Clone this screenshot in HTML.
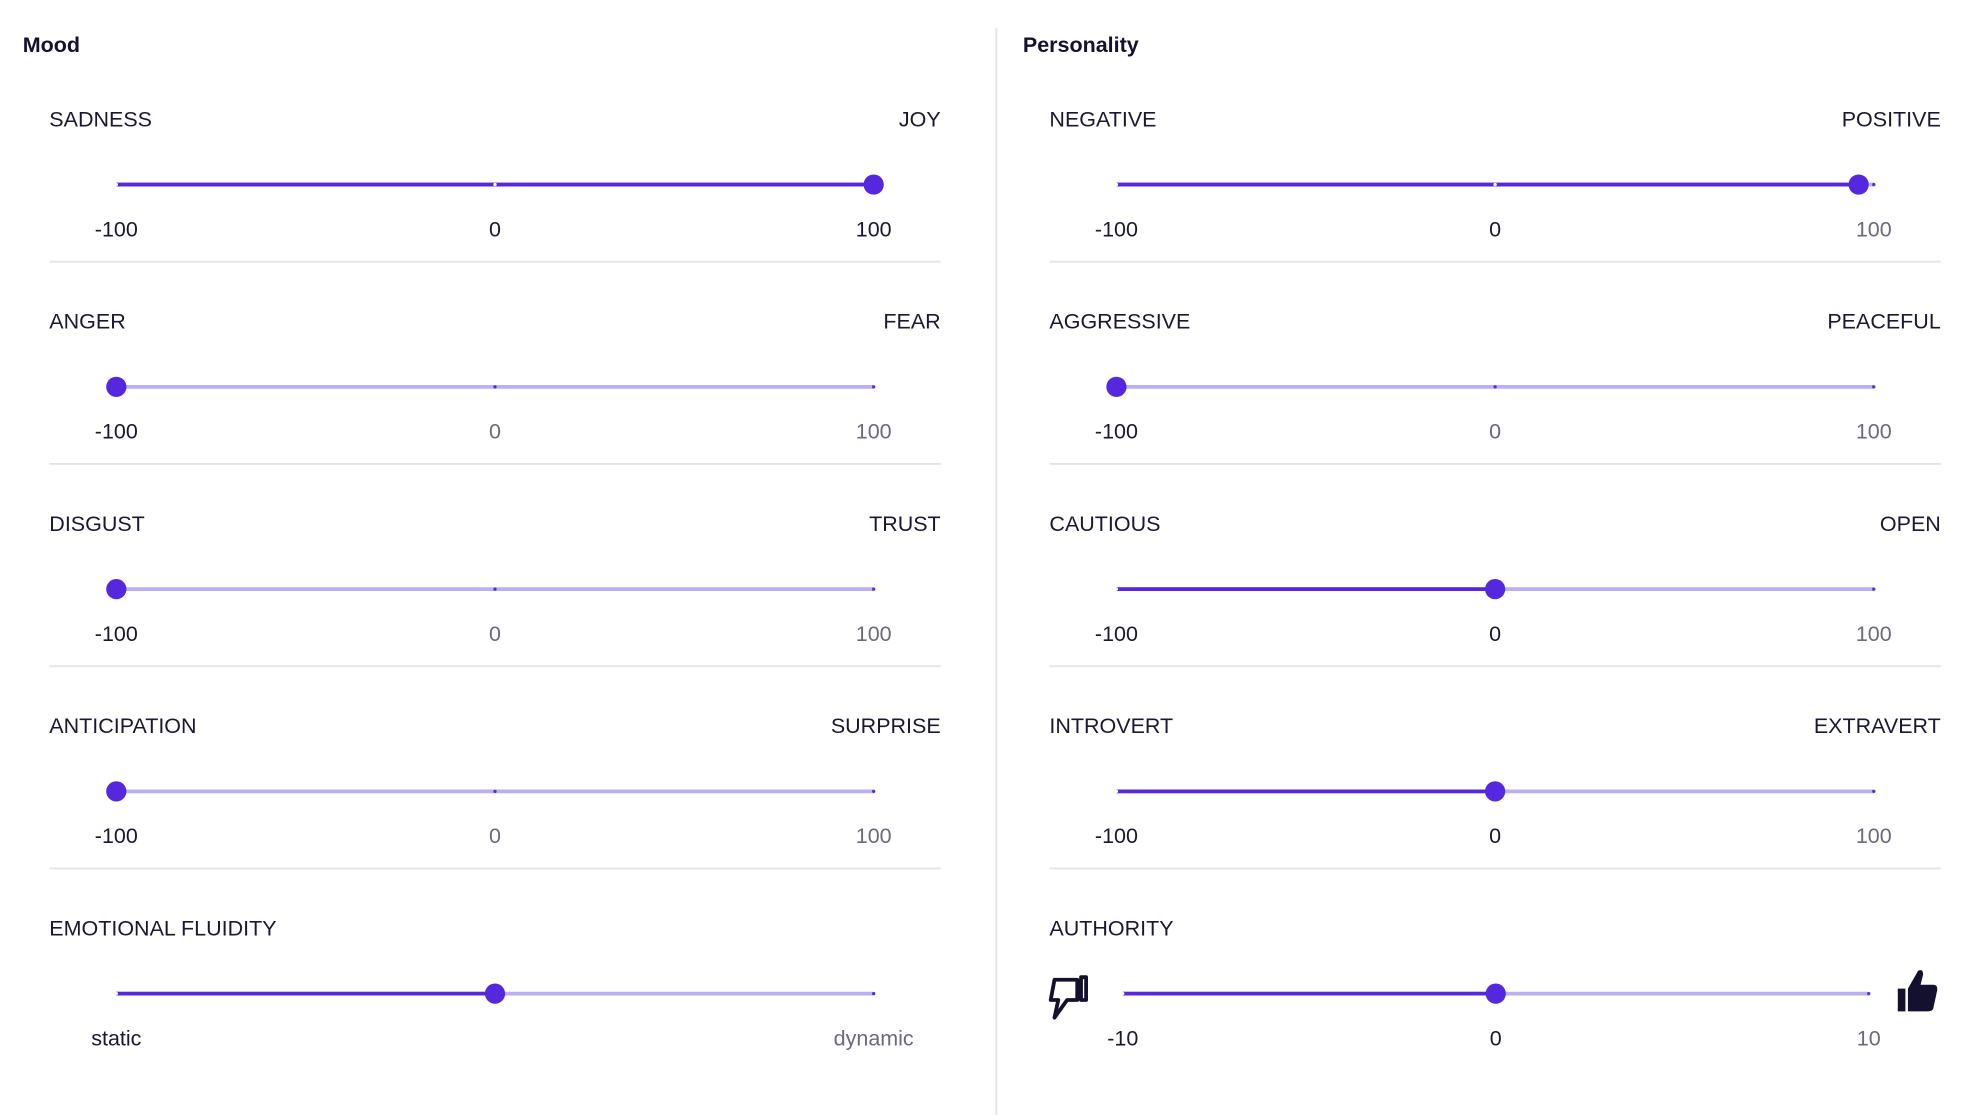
<!DOCTYPE html>
<html><head><meta charset="utf-8"><style>
html,body{margin:0;padding:0;background:#fff;}
svg{display:block;font-family:"Liberation Sans",sans-serif;}
</style></head><body>
<svg id="c" width="1980" height="1115" viewBox="0 0 1566 882" preserveAspectRatio="none" xmlns="http://www.w3.org/2000/svg">
<text x="18" y="41" font-size="17" font-weight="bold" fill="#14112e">Mood</text>
<text x="809" y="41" font-size="17" font-weight="bold" fill="#14112e">Personality</text>
<line x1="788" y1="22" x2="788" y2="882" stroke="#e4e4e8" stroke-width="1.5"/>
</svg>
<script>
const moodLeft=["SADNESS","ANGER","DISGUST","ANTICIPATION","EMOTIONAL FLUIDITY"];
const moodRight=["JOY","FEAR","TRUST","SURPRISE",""];
const moodValues=[100,-100,-100,-100,0];
const persLeft=["NEGATIVE","AGGRESSIVE","CAUTIOUS","INTROVERT","AUTHORITY"];
const persRight=["POSITIVE","PEACEFUL","OPEN","EXTRAVERT",""];
const persValues=[96,-100,0,0,0];
const tickLabels=["-100","0","100"];
const fluidityTicks=["static","","dynamic"];
const authorityTicks=["-10","0","10"];
const authorityDomain=[-10,10];

const svg=document.getElementById('c');
const NS="http://www.w3.org/2000/svg";
function mk(tag,attrs){const e=document.createElementNS(NS,tag);for(const k in attrs)e.setAttribute(k,attrs[k]);svg.appendChild(e);return e;}
const DARK="#5528e0",LIGHT="#bcaef2",TXT="#1a1830",GRAY="#6b6a78";

function panel(px,lefts,rights,vals,prefix){
  for(let i=0;i<5;i++){
    const y0=94+i*160;
    const last=i===4;
    const isAuth=last&&prefix==="personality";
    let x0=px+92,x1=px+691;
    if(isAuth){x0=px+97;x1=px+687;}
    const dom=isAuth?authorityDomain:[-100,100];
    const xs=v=>x0+(v-dom[0])/(dom[1]-dom[0])*(x1-x0);
    const ticks=isAuth?authorityTicks:(last?fluidityTicks:tickLabels);
    const tickVals=[dom[0],(dom[0]+dom[1])/2,dom[1]];
    let t=mk('text',{x:px+39,y:y0+6,'font-size':17,fill:TXT});
    t.textContent=lefts[i];
    
    
    if(rights[i]){t=mk('text',{x:px+744,y:y0+6,'font-size':17,fill:TXT,'text-anchor':'end'});
      t.textContent=rights[i];
      
      }
    const ty=y0+52, v=vals[i], vx=xs(v);
    let l=mk('line',{x1:x0,y1:ty,x2:x1,y2:ty,stroke:LIGHT,'stroke-width':3});
    
    
    l=mk('line',{x1:x0,y1:ty,x2:vx,y2:ty,stroke:DARK,'stroke-width':3});
    
    
    tickVals.forEach((tv,k)=>{
      const tx=xs(tv);
      const d=mk('circle',{cx:tx,cy:ty,r:1.3,fill:tv<=v?'#ffffff':DARK});
      
      
      if(ticks[k]){
        const tt=mk('text',{x:tx,y:ty+41,'font-size':17,fill:(tv<=v||last&&!isAuth&&k==0)?TXT:GRAY,'text-anchor':'middle'});
        tt.textContent=ticks[k];
        
        
      }
    });
    const th=mk('circle',{cx:vx,cy:ty,r:8,fill:DARK});
    
    
    if(!last){const s=mk('line',{x1:px+39,y1:y0+113,x2:px+744,y2:y0+113,stroke:'#e4e4e8','stroke-width':1.5});
      
      }
    if(isAuth){
      const dn=mk('path',{d:`M${px+43} ${ty-11} h18 v16 h-8 l-10 14 l3 -14 h-6 z M${px+64} ${ty-13} h4 v18 h-4 z`,fill:'none',stroke:'#14112e','stroke-width':3,'stroke-linejoin':'round'});
      
      
      const up=mk('path',{d:`M${px+710} ${ty-4} h6 v18 h-6 z M${px+718} ${ty-4} l8 -14 q4 -2 4 3 l-2 8 h10 q4 0 3 5 l-3 14 q-1 2 -4 2 h-16 z`,fill:'#14112e'});
      
      
    }
  }
}
panel(0,moodLeft,moodRight,moodValues,'mood');
panel(791,persLeft,persRight,persValues,'personality');
</script>
</body></html>
